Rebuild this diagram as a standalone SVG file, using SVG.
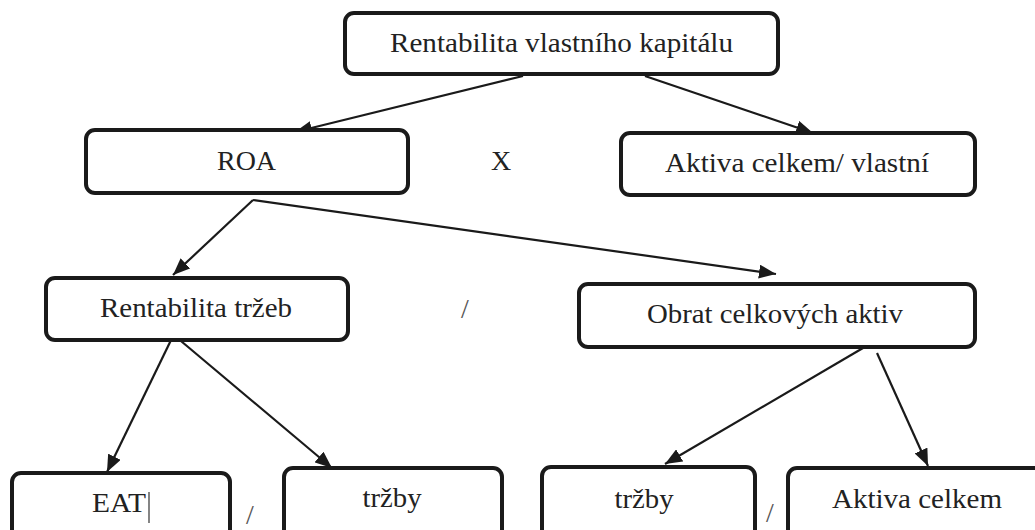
<svg xmlns="http://www.w3.org/2000/svg" width="1035" height="530" viewBox="0 0 1035 530" font-family="Liberation Serif, serif">
<style>
.box{fill:#fff;stroke:#1a1a1a;stroke-width:4;}
.lbl{font-size:28px;fill:#222;text-anchor:middle;}
.op{font-size:28px;fill:#555;text-anchor:middle;}
.edge{stroke:#1a1a1a;stroke-width:2.2;fill:none;marker-end:url(#ah);}
</style>
<defs>
<marker id="ah" markerUnits="userSpaceOnUse" markerWidth="18" markerHeight="14" refX="17" refY="7" orient="auto">
<path d="M0,0 L17,7 L0,14 Z" fill="#1a1a1a"/>
</marker>
</defs>
<rect width="1035" height="530" fill="#fff"/>
<g id="connectors">
<line class="edge" x1="523" y1="76" x2="295" y2="132"/>
<line class="edge" x1="645" y1="76" x2="813" y2="133"/>
<line class="edge" x1="253" y1="200" x2="173" y2="275"/>
<line class="edge" x1="253" y1="200" x2="776" y2="274"/>
<line class="edge" x1="173" y1="336" x2="107" y2="472"/>
<line class="edge" x1="175" y1="336" x2="332" y2="468"/>
<line class="edge" x1="863" y1="348" x2="665" y2="464"/>
<line class="edge" x1="877" y1="353" x2="928" y2="466"/>
</g>
<g id="n-roe">
<rect class="box" x="345" y="13" width="433" height="61" rx="9"/>
<text class="lbl" x="561.5" y="52" textLength="343" lengthAdjust="spacingAndGlyphs">Rentabilita vlastního kapitálu</text>
</g>
<g id="n-roa">
<rect class="box" x="86" y="130" width="322" height="63" rx="9"/>
<text class="lbl" x="246.5" y="170" textLength="59" lengthAdjust="spacingAndGlyphs">ROA</text>
</g>
<text class="lbl" x="501" y="170">X</text>
<g id="n-aktiva-vlastni">
<rect class="box" x="621" y="133" width="354" height="62" rx="9"/>
<text class="lbl" x="797" y="172" textLength="264" lengthAdjust="spacingAndGlyphs">Aktiva celkem/ vlastní</text>
</g>
<g id="n-ros">
<rect class="box" x="46" y="278" width="302" height="62" rx="9"/>
<text class="lbl" x="196" y="317" textLength="192" lengthAdjust="spacingAndGlyphs">Rentabilita tržeb</text>
</g>
<text class="op" x="465" y="318">/</text>
<g id="n-obrat">
<rect class="box" x="579" y="284" width="396" height="63" rx="9"/>
<text class="lbl" x="775" y="323" textLength="256" lengthAdjust="spacingAndGlyphs">Obrat celkových aktiv</text>
</g>
<g id="n-eat">
<rect class="box" x="12" y="473" width="218" height="80" rx="9"/>
<text class="lbl" x="119" y="512" textLength="54" lengthAdjust="spacingAndGlyphs">EAT</text>
<line x1="149" y1="492" x2="149" y2="523" stroke="#333" stroke-width="1.2"/>
</g>
<text class="op" x="250" y="524">/</text>
<g id="n-trzby1">
<rect class="box" x="284" y="468" width="218" height="80" rx="9"/>
<text class="lbl" x="392" y="507" textLength="59" lengthAdjust="spacingAndGlyphs">tržby</text>
</g>
<g id="n-trzby2">
<rect class="box" x="542" y="467" width="213" height="80" rx="9"/>
<text class="lbl" x="644" y="508" textLength="59" lengthAdjust="spacingAndGlyphs">tržby</text>
</g>
<text class="op" x="770" y="522">/</text>
<g id="n-aktiva">
<rect class="box" x="788" y="468" width="260" height="80" rx="9"/>
<text class="lbl" x="917" y="508" textLength="170" lengthAdjust="spacingAndGlyphs">Aktiva celkem</text>
</g>
</svg>
